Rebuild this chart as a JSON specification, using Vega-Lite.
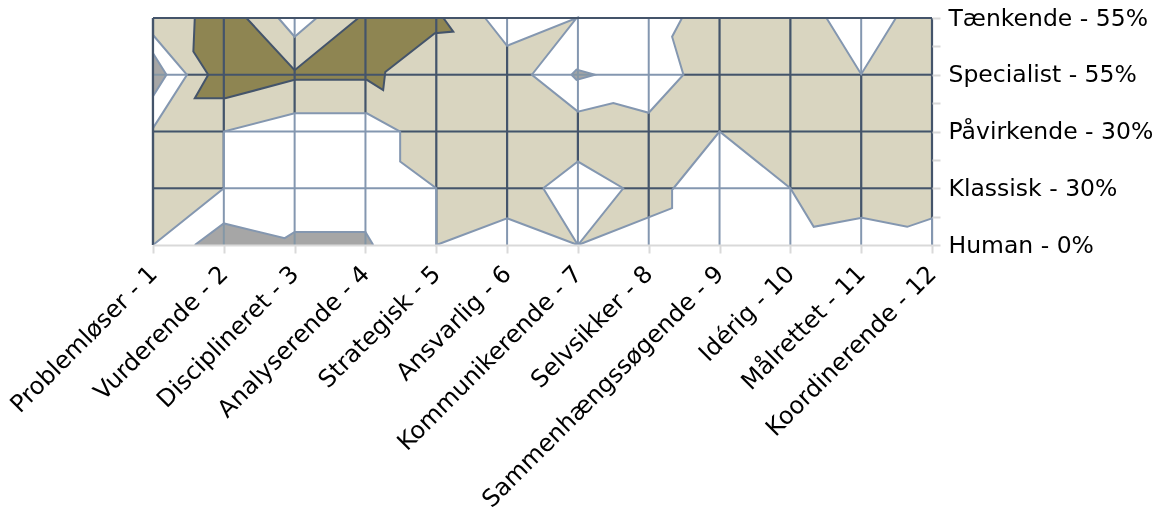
{
  "$schema": "https://vega.github.io/schema/vega-lite/v6.json",
  "width": 779,
  "height": 227,
  "autosize": {"type": "none"},
  "padding": {"left": 153, "top": 18, "right": 236, "bottom": 268},
  "background": "#ffffff",
  "config": {"view": {"stroke": null}, "font": "DejaVu Sans"},
  "datasets": {
    "bg": [{"x": 1, "x2": 12, "y": 0, "y2": 4}],
    "grid": [
      {"x": 1, "y": 0, "x2": 1, "y2": 4}, {"x": 2, "y": 0, "x2": 2, "y2": 4},
      {"x": 3, "y": 0, "x2": 3, "y2": 4}, {"x": 4, "y": 0, "x2": 4, "y2": 4},
      {"x": 5, "y": 0, "x2": 5, "y2": 4}, {"x": 6, "y": 0, "x2": 6, "y2": 4},
      {"x": 7, "y": 0, "x2": 7, "y2": 4}, {"x": 8, "y": 0, "x2": 8, "y2": 4},
      {"x": 9, "y": 0, "x2": 9, "y2": 4}, {"x": 10, "y": 0, "x2": 10, "y2": 4},
      {"x": 11, "y": 0, "x2": 11, "y2": 4}, {"x": 12, "y": 0, "x2": 12, "y2": 4},
      {"x": 1, "y": 1, "x2": 12, "y2": 1}, {"x": 1, "y": 2, "x2": 12, "y2": 2},
      {"x": 1, "y": 3, "x2": 12, "y2": 3}, {"x": 1, "y": 4, "x2": 12, "y2": 4}
    ],
    "edge": [
      {"x": 1, "y": 0, "x2": 1, "y2": 4},
      {"x": 1, "y": 4, "x2": 12, "y2": 4}
    ],
    "polys": [
      {"poly": "O1", "kind": "olive", "ord": 1, "x": 1.59, "y": 4},
      {"poly": "O1", "kind": "olive", "ord": 2, "x": 2.32, "y": 4},
      {"poly": "O1", "kind": "olive", "ord": 3, "x": 3.0, "y": 3.08},
      {"poly": "O1", "kind": "olive", "ord": 4, "x": 3.9, "y": 4},
      {"poly": "O1", "kind": "olive", "ord": 5, "x": 5.1, "y": 4},
      {"poly": "O1", "kind": "olive", "ord": 6, "x": 5.24, "y": 3.76},
      {"poly": "O1", "kind": "olive", "ord": 7, "x": 4.98, "y": 3.73},
      {"poly": "O1", "kind": "olive", "ord": 8, "x": 4.28, "y": 3.05},
      {"poly": "O1", "kind": "olive", "ord": 9, "x": 4.25, "y": 2.73},
      {"poly": "O1", "kind": "olive", "ord": 10, "x": 4.02, "y": 2.91},
      {"poly": "O1", "kind": "olive", "ord": 11, "x": 3.0, "y": 2.91},
      {"poly": "O1", "kind": "olive", "ord": 12, "x": 2.02, "y": 2.585},
      {"poly": "O1", "kind": "olive", "ord": 13, "x": 1.59, "y": 2.585},
      {"poly": "O1", "kind": "olive", "ord": 14, "x": 1.78, "y": 3.0},
      {"poly": "O1", "kind": "olive", "ord": 15, "x": 1.57, "y": 3.41},
      {"poly": "O1", "kind": "olive", "ord": 16, "x": 1.59, "y": 4},

      {"poly": "W1", "kind": "white", "ord": 1, "x": 1, "y": 3.7},
      {"poly": "W1", "kind": "white", "ord": 2, "x": 1.48, "y": 3.0},
      {"poly": "W1", "kind": "white", "ord": 3, "x": 1, "y": 2.06},

      {"poly": "W2", "kind": "white", "ord": 1, "x": 2.77, "y": 4},
      {"poly": "W2", "kind": "white", "ord": 2, "x": 3.0, "y": 3.67},
      {"poly": "W2", "kind": "white", "ord": 3, "x": 3.31, "y": 4},

      {"poly": "W3", "kind": "white", "ord": 1, "x": 1, "y": 0},
      {"poly": "W3", "kind": "white", "ord": 2, "x": 2, "y": 1},
      {"poly": "W3", "kind": "white", "ord": 3, "x": 2, "y": 2},
      {"poly": "W3", "kind": "white", "ord": 4, "x": 3, "y": 2.32},
      {"poly": "W3", "kind": "white", "ord": 5, "x": 4.02, "y": 2.32},
      {"poly": "W3", "kind": "white", "ord": 6, "x": 4.49, "y": 2},
      {"poly": "W3", "kind": "white", "ord": 7, "x": 4.49, "y": 1.47},
      {"poly": "W3", "kind": "white", "ord": 8, "x": 5, "y": 1},
      {"poly": "W3", "kind": "white", "ord": 9, "x": 5, "y": 0},
      {"poly": "W3", "kind": "white", "ord": 10, "x": 6, "y": 0.47},
      {"poly": "W3", "kind": "white", "ord": 11, "x": 7, "y": 0},

      {"poly": "W4", "kind": "white", "ord": 1, "x": 7, "y": 0},
      {"poly": "W4", "kind": "white", "ord": 2, "x": 8.33, "y": 0.65},
      {"poly": "W4", "kind": "white", "ord": 3, "x": 8.33, "y": 0.97},
      {"poly": "W4", "kind": "white", "ord": 4, "x": 8.35, "y": 1.0},
      {"poly": "W4", "kind": "white", "ord": 5, "x": 9, "y": 2},
      {"poly": "W4", "kind": "white", "ord": 6, "x": 10, "y": 1},
      {"poly": "W4", "kind": "white", "ord": 7, "x": 10.33, "y": 0.32},
      {"poly": "W4", "kind": "white", "ord": 8, "x": 11.01, "y": 0.48},
      {"poly": "W4", "kind": "white", "ord": 9, "x": 11.65, "y": 0.32},
      {"poly": "W4", "kind": "white", "ord": 10, "x": 12, "y": 0.47},
      {"poly": "W4", "kind": "white", "ord": 11, "x": 12, "y": 0},

      {"poly": "W5", "kind": "white", "ord": 1, "x": 6.51, "y": 1.0},
      {"poly": "W5", "kind": "white", "ord": 2, "x": 7, "y": 1.47},
      {"poly": "W5", "kind": "white", "ord": 3, "x": 7.64, "y": 1.0},
      {"poly": "W5", "kind": "white", "ord": 4, "x": 7, "y": 0},
      {"poly": "W5", "kind": "white", "ord": 5, "x": 6.51, "y": 1.0},

      {"poly": "W6", "kind": "white", "ord": 1, "x": 5.69, "y": 4},
      {"poly": "W6", "kind": "white", "ord": 2, "x": 6.0, "y": 3.51},
      {"poly": "W6", "kind": "white", "ord": 3, "x": 6.98, "y": 4},
      {"poly": "W6", "kind": "white", "ord": 4, "x": 6.35, "y": 3},
      {"poly": "W6", "kind": "white", "ord": 5, "x": 7, "y": 2.35},
      {"poly": "W6", "kind": "white", "ord": 6, "x": 7.5, "y": 2.5},
      {"poly": "W6", "kind": "white", "ord": 7, "x": 8, "y": 2.33},
      {"poly": "W6", "kind": "white", "ord": 8, "x": 8.49, "y": 3},
      {"poly": "W6", "kind": "white", "ord": 9, "x": 8.33, "y": 3.67},
      {"poly": "W6", "kind": "white", "ord": 10, "x": 8.47, "y": 4},

      {"poly": "W7", "kind": "white", "ord": 1, "x": 10.51, "y": 4},
      {"poly": "W7", "kind": "white", "ord": 2, "x": 11, "y": 3.01},
      {"poly": "W7", "kind": "white", "ord": 3, "x": 11.49, "y": 4},

      {"poly": "G1", "kind": "grey", "ord": 1, "x": 1, "y": 3.38},
      {"poly": "G1", "kind": "grey", "ord": 2, "x": 1.19, "y": 3.0},
      {"poly": "G1", "kind": "grey", "ord": 3, "x": 1, "y": 2.62},

      {"poly": "G2", "kind": "grey", "ord": 1, "x": 1.59, "y": 0},
      {"poly": "G2", "kind": "grey", "ord": 2, "x": 2, "y": 0.38},
      {"poly": "G2", "kind": "grey", "ord": 3, "x": 2.86, "y": 0.12},
      {"poly": "G2", "kind": "grey", "ord": 4, "x": 3, "y": 0.23},
      {"poly": "G2", "kind": "grey", "ord": 5, "x": 4, "y": 0.23},
      {"poly": "G2", "kind": "grey", "ord": 6, "x": 4.11, "y": 0},

      {"poly": "G3", "kind": "grey", "ord": 1, "x": 6.91, "y": 3.0},
      {"poly": "G3", "kind": "grey", "ord": 2, "x": 6.98, "y": 3.09},
      {"poly": "G3", "kind": "grey", "ord": 3, "x": 7.24, "y": 3.0},
      {"poly": "G3", "kind": "grey", "ord": 4, "x": 6.98, "y": 2.91},
      {"poly": "G3", "kind": "grey", "ord": 5, "x": 6.91, "y": 3.0}
    ]
  },
  "encoding": {
    "x": {
      "field": "x", "type": "quantitative",
      "scale": {"domain": [1, 12], "nice": false, "zero": false},
      "axis": {
        "values": [1, 2, 3, 4, 5, 6, 7, 8, 9, 10, 11, 12],
        "labelExpr": "['', 'Problemløser - 1', 'Vurderende - 2', 'Disciplineret - 3', 'Analyserende - 4', 'Strategisk - 5', 'Ansvarlig - 6', 'Kommunikerende - 7', 'Selvsikker - 8', 'Sammenhængssøgende - 9', 'Idérig - 10', 'Målrettet - 11', 'Koordinerende - 12'][datum.value]",
        "labelAngle": -45, "labelAlign": "right", "labelBaseline": "middle",
        "labelFont": "DejaVu Sans", "labelFontSize": 24, "labelColor": "#000000",
        "labelPadding": 17, "labelOverlap": false, "labelFlush": false, "labelBound": false,
        "labelLimit": 0,
        "tickSize": 8, "tickColor": "#D9D9D9", "tickWidth": 2,
        "domainColor": "#D9D9D9", "domainWidth": 2,
        "grid": false, "title": null, "zindex": 1
      }
    },
    "y": {
      "field": "y", "type": "quantitative",
      "scale": {"domain": [0, 4], "nice": false, "zero": false},
      "axis": {
        "orient": "right",
        "values": [0, 0.5, 1, 1.5, 2, 2.5, 3, 3.5, 4],
        "labelExpr": "['Human - 0%', '', 'Klassisk - 30%', '', 'Påvirkende - 30%', '', 'Specialist - 55%', '', 'Tænkende - 55%'][round(datum.value * 2)]",
        "labelAlign": "left", "labelBaseline": "middle",
        "labelFont": "DejaVu Sans", "labelFontSize": 23.5, "labelColor": "#000000",
        "labelPadding": 8, "labelOverlap": false, "labelFlush": false,
        "labelLimit": 0,
        "tickSize": 8, "tickColor": "#D9D9D9", "tickWidth": 2,
        "domain": false, "grid": false, "title": null, "zindex": 1
      }
    }
  },
  "layer": [
    {
      "data": {"name": "bg"},
      "mark": {"type": "rect", "color": "#D9D5C0"},
      "encoding": {"x2": {"field": "x2"}, "y2": {"field": "y2"}}
    },
    {
      "data": {"name": "polys"},
      "transform": [{"filter": "datum.kind == 'olive'"}],
      "mark": {"type": "line", "fill": "#8E8552", "stroke": "#44546A", "strokeWidth": 2, "strokeJoin": "miter"},
      "encoding": {"order": {"field": "ord", "type": "quantitative"}, "detail": {"field": "poly"}}
    },
    {
      "data": {"name": "grid"},
      "mark": {"type": "rule", "stroke": "#44546A", "strokeWidth": 2.2},
      "encoding": {"x2": {"field": "x2"}, "y2": {"field": "y2"}}
    },
    {
      "data": {"name": "polys"},
      "transform": [{"filter": "datum.kind == 'white'"}],
      "mark": {"type": "line", "fill": "#FFFFFF", "stroke": "#8497B0", "strokeWidth": 2, "strokeJoin": "miter"},
      "encoding": {"order": {"field": "ord", "type": "quantitative"}, "detail": {"field": "poly"}}
    },
    {
      "data": {"name": "polys"},
      "transform": [{"filter": "datum.kind == 'grey'"}],
      "mark": {"type": "line", "fill": "#A6A6A6", "stroke": "#8497B0", "strokeWidth": 2, "strokeJoin": "miter"},
      "encoding": {"order": {"field": "ord", "type": "quantitative"}, "detail": {"field": "poly"}}
    },
    {
      "data": {"name": "grid"},
      "mark": {"type": "rule", "stroke": "#8497B0", "strokeWidth": 2, "blend": "darken"},
      "encoding": {"x2": {"field": "x2"}, "y2": {"field": "y2"}}
    },
    {
      "data": {"name": "edge"},
      "mark": {"type": "rule", "stroke": "#44546A", "strokeWidth": 2.2},
      "encoding": {"x2": {"field": "x2"}, "y2": {"field": "y2"}}
    }
  ]
}
